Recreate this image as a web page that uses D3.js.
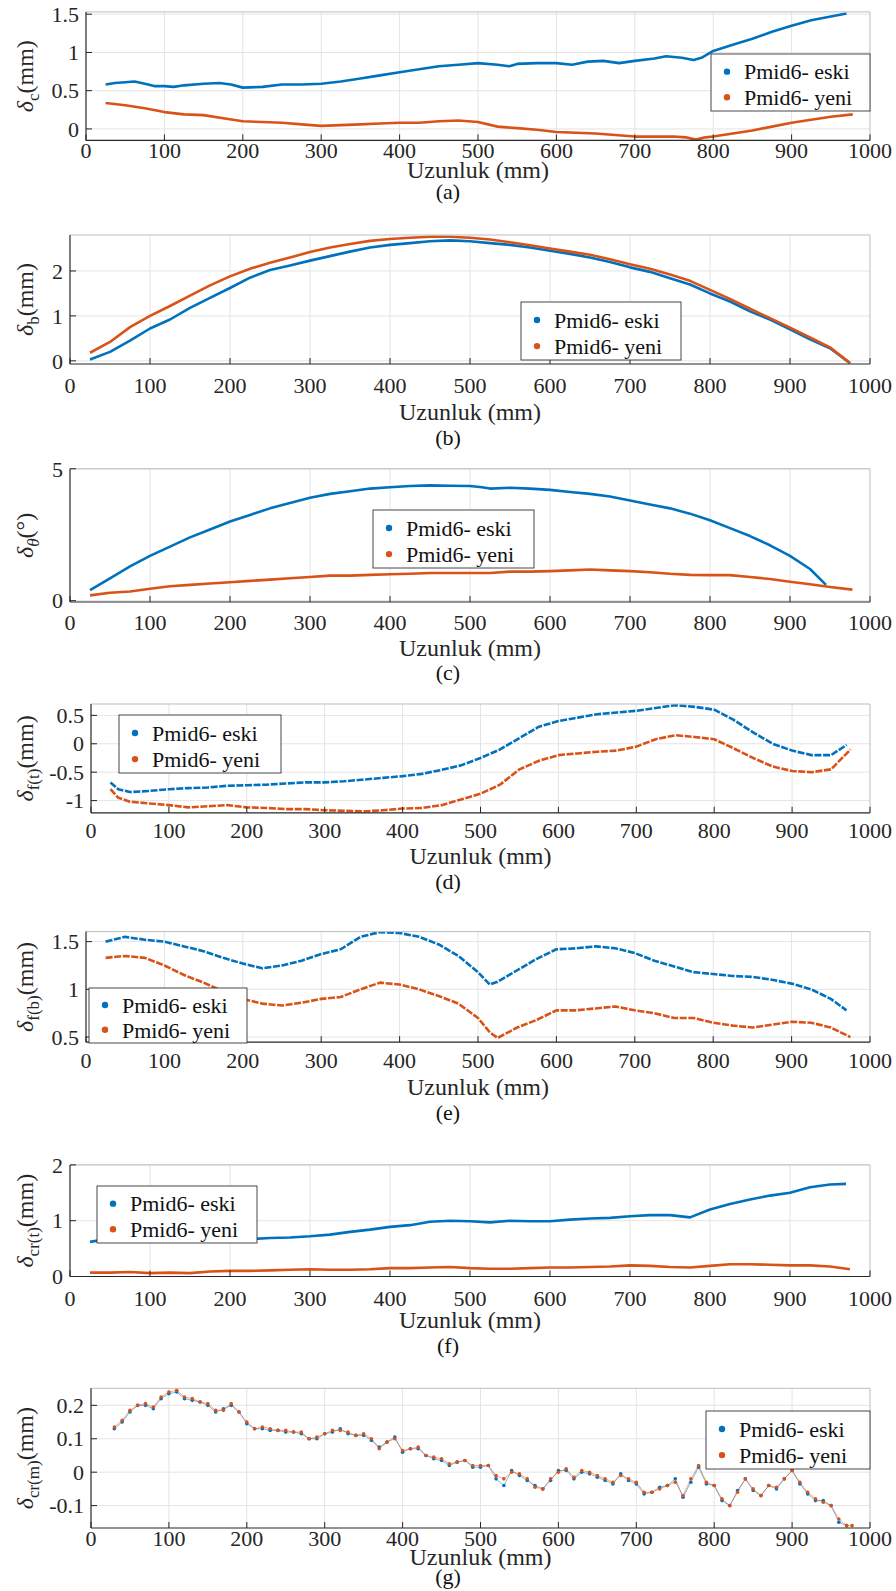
<!DOCTYPE html>
<html>
<head>
<meta charset="utf-8">
<script src="https://cdn.jsdelivr.net/npm/d3@7"></script>
<style>
  body { margin: 0; background: #fff; }
  svg, svg text { font-family: "Liberation Serif", "DejaVu Serif", "Times New Roman", Times, serif; }
  .grid line { stroke: #e4e4e4; stroke-width: 1; }
  .tick-text { font-size: 22px; fill: #262626; }
  .axis-title { font-size: 24px; fill: #262626; }
  .caption { font-size: 22px; fill: #111; }
  .legend-text { font-size: 22px; fill: #111; }
</style>
</head>
<body>
<svg id="fig" width="896" height="1591"></svg>
<script>
// values, [Uzunluk (mm), value]
const X_TICKS = [0, 100, 200, 300, 400, 500, 600, 700, 800, 900, 1000];
const SERIES_NAMES = ["Pmid6- eski", "Pmid6- yeni"];

const A_TICKS = [0, 0.5, 1, 1.5];
const A_ESKI = [[25,0.58],[37,0.6],[50,0.61],[62,0.62],[75,0.59],[87,0.56],[100,0.56],[112,0.55],[125,0.57],[150,0.59],[170,0.6],[185,0.58],[200,0.54],[225,0.55],[250,0.58],[275,0.58],[300,0.59],[325,0.62],[350,0.66],[375,0.7],[400,0.74],[425,0.78],[450,0.82],[475,0.84],[500,0.86],[525,0.84],[540,0.82],[550,0.85],[575,0.86],[600,0.86],[620,0.84],[640,0.88],[660,0.89],[680,0.86],[700,0.89],[725,0.92],[740,0.95],[760,0.93],[775,0.9],[785,0.93],[800,1.02],[825,1.1],[850,1.18],[875,1.27],[900,1.35],[925,1.42],[950,1.47],[970,1.51]];
const A_YENI = [[25,0.34],[50,0.31],[75,0.27],[100,0.22],[125,0.19],[150,0.18],[175,0.14],[200,0.1],[225,0.09],[250,0.08],[275,0.06],[300,0.04],[325,0.05],[350,0.06],[375,0.07],[400,0.08],[425,0.08],[450,0.1],[475,0.11],[500,0.09],[525,0.03],[550,0.01],[575,-0.01],[600,-0.04],[625,-0.05],[650,-0.06],[675,-0.08],[700,-0.1],[725,-0.1],[750,-0.1],[765,-0.11],[778,-0.14],[790,-0.11],[800,-0.1],[825,-0.06],[850,-0.02],[875,0.03],[900,0.08],[925,0.12],[950,0.16],[978,0.19]];

const B_TICKS = [0, 1, 2];
const B_ESKI = [[25,0.03],[50,0.2],[75,0.45],[100,0.72],[125,0.92],[150,1.18],[175,1.4],[200,1.62],[225,1.85],[250,2.02],[275,2.12],[300,2.23],[325,2.33],[350,2.43],[375,2.52],[400,2.58],[425,2.62],[450,2.66],[475,2.68],[500,2.66],[525,2.62],[550,2.58],[575,2.52],[600,2.45],[625,2.38],[650,2.3],[675,2.2],[700,2.08],[725,1.98],[750,1.84],[775,1.7],[800,1.5],[825,1.32],[850,1.1],[875,0.92],[900,0.7],[925,0.48],[950,0.28],[975,-0.05]];
const B_YENI = [[25,0.18],[50,0.42],[75,0.75],[100,1.0],[125,1.22],[150,1.45],[175,1.68],[200,1.88],[225,2.05],[250,2.18],[275,2.3],[300,2.42],[325,2.52],[350,2.6],[375,2.67],[400,2.71],[425,2.74],[450,2.76],[475,2.76],[500,2.74],[525,2.7],[550,2.64],[575,2.57],[600,2.5],[625,2.43],[650,2.36],[675,2.26],[700,2.15],[725,2.05],[750,1.92],[775,1.78],[800,1.58],[825,1.38],[850,1.16],[875,0.95],[900,0.74],[925,0.52],[950,0.3],[975,-0.05]];

const C_TICKS = [0, 5];
const C_ESKI = [[25,0.4],[50,0.85],[75,1.3],[100,1.7],[125,2.05],[150,2.4],[175,2.7],[200,3.0],[225,3.25],[250,3.5],[275,3.7],[300,3.9],[325,4.05],[350,4.15],[375,4.25],[400,4.3],[425,4.35],[450,4.37],[475,4.36],[500,4.35],[515,4.3],[525,4.25],[550,4.28],[575,4.25],[600,4.2],[625,4.12],[650,4.05],[675,3.95],[700,3.8],[725,3.65],[750,3.5],[775,3.3],[800,3.05],[825,2.75],[850,2.45],[875,2.1],[900,1.7],[925,1.2],[945,0.6]];
const C_YENI = [[25,0.2],[50,0.3],[75,0.35],[100,0.45],[125,0.55],[150,0.6],[175,0.65],[200,0.7],[225,0.75],[250,0.8],[275,0.85],[300,0.9],[325,0.95],[350,0.95],[375,0.98],[400,1.0],[425,1.02],[450,1.05],[475,1.05],[500,1.05],[525,1.05],[550,1.1],[575,1.1],[600,1.12],[625,1.15],[650,1.18],[675,1.15],[700,1.12],[725,1.08],[750,1.02],[775,0.98],[800,0.97],[825,0.97],[850,0.9],[875,0.82],[900,0.72],[925,0.62],[950,0.52],[978,0.42]];

const D_TICKS = [-1, -0.5, 0, 0.5];
const D_ESKI = [[25,-0.68],[35,-0.8],[50,-0.85],[75,-0.83],[100,-0.8],[125,-0.78],[150,-0.77],[175,-0.74],[200,-0.73],[225,-0.72],[250,-0.7],[275,-0.68],[300,-0.68],[325,-0.66],[350,-0.63],[375,-0.6],[400,-0.57],[425,-0.53],[450,-0.46],[475,-0.38],[500,-0.25],[525,-0.1],[550,0.1],[575,0.3],[600,0.4],[625,0.46],[650,0.52],[675,0.55],[700,0.58],[725,0.63],[750,0.68],[775,0.65],[800,0.6],[825,0.42],[850,0.2],[875,0.0],[900,-0.12],[925,-0.2],[950,-0.2],[970,-0.02]];
const D_YENI = [[25,-0.8],[35,-0.95],[50,-1.02],[75,-1.05],[100,-1.08],[125,-1.12],[150,-1.1],[175,-1.08],[200,-1.12],[225,-1.13],[250,-1.15],[275,-1.15],[300,-1.17],[325,-1.18],[350,-1.19],[375,-1.17],[400,-1.14],[425,-1.13],[450,-1.08],[475,-0.98],[500,-0.88],[525,-0.72],[550,-0.45],[575,-0.3],[600,-0.2],[625,-0.17],[650,-0.14],[675,-0.12],[700,-0.05],[725,0.08],[750,0.15],[775,0.12],[800,0.08],[825,-0.08],[850,-0.25],[875,-0.4],[900,-0.48],[925,-0.5],[950,-0.45],[975,-0.1]];

const E_TICKS = [0.5, 1, 1.5];
const E_ESKI = [[25,1.5],[50,1.55],[75,1.52],[100,1.5],[125,1.45],[150,1.4],[175,1.33],[200,1.27],[225,1.22],[250,1.25],[275,1.3],[300,1.37],[325,1.42],[350,1.55],[375,1.6],[400,1.59],[425,1.55],[450,1.47],[475,1.35],[500,1.18],[515,1.05],[525,1.08],[550,1.2],[575,1.32],[600,1.42],[625,1.43],[650,1.45],[675,1.43],[700,1.38],[725,1.3],[750,1.24],[775,1.18],[800,1.16],[825,1.14],[850,1.13],[875,1.1],[900,1.06],[925,1.0],[950,0.9],[970,0.78]];
const E_YENI = [[25,1.33],[50,1.35],[75,1.33],[100,1.25],[125,1.15],[150,1.07],[175,0.98],[200,0.9],[225,0.85],[250,0.83],[275,0.86],[300,0.9],[325,0.92],[350,1.0],[375,1.07],[400,1.05],[425,1.0],[450,0.93],[475,0.85],[500,0.7],[515,0.55],[525,0.49],[550,0.6],[575,0.68],[600,0.78],[625,0.78],[650,0.8],[675,0.82],[700,0.78],[725,0.75],[750,0.7],[775,0.7],[800,0.65],[825,0.62],[850,0.6],[875,0.63],[900,0.66],[925,0.65],[950,0.6],[975,0.5]];

const F_TICKS = [0, 1, 2];
const F_ESKI = [[25,0.62],[50,0.68],[65,0.73],[75,0.67],[100,0.66],[125,0.66],[150,0.68],[175,0.68],[200,0.66],[225,0.67],[250,0.69],[275,0.7],[300,0.72],[325,0.75],[350,0.8],[375,0.84],[400,0.89],[425,0.92],[450,0.98],[475,1.0],[500,0.99],[525,0.97],[550,1.0],[575,0.99],[600,0.99],[625,1.02],[650,1.04],[675,1.05],[700,1.08],[725,1.1],[750,1.1],[775,1.06],[800,1.2],[825,1.3],[850,1.38],[875,1.45],[900,1.5],[925,1.6],[950,1.65],[970,1.66]];
const F_YENI = [[25,0.07],[50,0.07],[75,0.08],[100,0.06],[125,0.07],[150,0.06],[175,0.09],[200,0.1],[225,0.1],[250,0.11],[275,0.12],[300,0.13],[325,0.12],[350,0.12],[375,0.13],[400,0.15],[425,0.15],[450,0.16],[475,0.17],[500,0.15],[525,0.14],[550,0.14],[575,0.15],[600,0.16],[625,0.16],[650,0.17],[675,0.18],[700,0.2],[725,0.19],[750,0.17],[775,0.16],[800,0.19],[825,0.22],[850,0.22],[875,0.21],[900,0.2],[925,0.2],[950,0.18],[975,0.13]];

const G_TICKS = [-0.1, 0, 0.1, 0.2];
const G_ESKI = [[30,0.13],[40,0.15],[50,0.18],[60,0.2],[70,0.2],[80,0.19],[90,0.22],[100,0.235],[110,0.24],[120,0.22],[130,0.215],[140,0.21],[150,0.2],[160,0.18],[170,0.19],[180,0.2],[190,0.18],[200,0.145],[210,0.13],[220,0.13],[230,0.125],[240,0.125],[250,0.12],[260,0.12],[270,0.115],[280,0.1],[290,0.1],[300,0.115],[310,0.12],[320,0.13],[330,0.115],[340,0.11],[350,0.11],[360,0.095],[370,0.075],[380,0.09],[390,0.105],[400,0.06],[410,0.07],[420,0.07],[430,0.05],[440,0.04],[450,0.035],[460,0.02],[470,0.03],[480,0.035],[490,0.015],[500,0.015],[510,0.02],[520,-0.02],[530,-0.04],[540,0.005],[550,-0.01],[560,-0.025],[570,-0.04],[580,-0.05],[590,-0.025],[600,0.005],[610,0.005],[620,-0.02],[630,0.0],[640,-0.005],[650,-0.015],[660,-0.025],[670,-0.035],[680,-0.005],[690,-0.025],[700,-0.035],[710,-0.065],[720,-0.06],[730,-0.045],[740,-0.04],[750,-0.02],[760,-0.075],[770,-0.03],[780,0.015],[790,-0.035],[800,-0.04],[810,-0.085],[820,-0.1],[830,-0.055],[840,-0.02],[850,-0.055],[860,-0.07],[870,-0.04],[880,-0.05],[890,-0.02],[900,0.005],[910,-0.035],[920,-0.065],[930,-0.085],[940,-0.085],[950,-0.1],[960,-0.15],[970,-0.16]];
const G_YENI = [[30,0.135],[40,0.155],[50,0.185],[60,0.2],[70,0.205],[80,0.195],[90,0.225],[100,0.24],[110,0.245],[120,0.225],[130,0.22],[140,0.21],[150,0.205],[160,0.185],[170,0.185],[180,0.205],[190,0.18],[200,0.15],[210,0.13],[220,0.135],[230,0.13],[240,0.125],[250,0.125],[260,0.12],[270,0.12],[280,0.1],[290,0.105],[300,0.115],[310,0.125],[320,0.125],[330,0.12],[340,0.11],[350,0.115],[360,0.1],[370,0.07],[380,0.09],[390,0.1],[400,0.065],[410,0.07],[420,0.075],[430,0.05],[440,0.045],[450,0.04],[460,0.025],[470,0.03],[480,0.035],[490,0.02],[500,0.02],[510,0.02],[520,-0.01],[530,-0.02],[540,0.0],[550,-0.005],[560,-0.02],[570,-0.045],[580,-0.05],[590,-0.02],[600,0.0],[610,0.01],[620,-0.015],[630,0.005],[640,0.0],[650,-0.01],[660,-0.02],[670,-0.03],[680,-0.01],[690,-0.02],[700,-0.03],[710,-0.06],[720,-0.06],[730,-0.05],[740,-0.04],[750,-0.03],[760,-0.07],[770,-0.02],[780,0.02],[790,-0.03],[800,-0.04],[810,-0.08],[820,-0.1],[830,-0.06],[840,-0.02],[850,-0.05],[860,-0.07],[870,-0.04],[880,-0.045],[890,-0.02],[900,0.005],[910,-0.03],[920,-0.06],[930,-0.08],[940,-0.09],[950,-0.1],[960,-0.14],[970,-0.16],[977,-0.16]];

const COLORS = ["#0072BD", "#D95319"];

// layout of the seven stacked axes (pixels)
const PANELS = [
  { cap: "(a)", series: [A_ESKI, A_YENI], ticks: A_TICKS, domain: [-0.15, 1.53], left: 86, top: 11.9, bottom: 140.4,
    ylab: ["c", false, "(mm)"], xtY: 150, xlabY: 170, capY: 192, legend: { x: 711, y: 54, w: 159, h: 57 }, mark: "line" },
  { cap: "(b)", series: [B_ESKI, B_YENI], ticks: B_TICKS, domain: [-0.07, 2.8], left: 70, top: 235, bottom: 364,
    ylab: ["b", false, "(mm)"], xtY: 385, xlabY: 412, capY: 438, legend: { x: 521, y: 302, w: 160, h: 58 }, mark: "line" },
  { cap: "(c)", series: [C_ESKI, C_YENI], ticks: C_TICKS, domain: [-0.05, 5], left: 70, top: 468.8, bottom: 602,
    ylab: ["θ", true, "(°)"], xtY: 622, xlabY: 648, capY: 673, legend: { x: 373, y: 510, w: 161, h: 58 }, mark: "line" },
  { cap: "(d)", series: [D_ESKI, D_YENI], ticks: D_TICKS, domain: [-1.215, 0.7], left: 91, top: 704, bottom: 812.8,
    ylab: ["f(t)", false, "(mm)"], xtY: 830, xlabY: 856, capY: 882, legend: { x: 119, y: 715, w: 162, h: 58 }, mark: "dash" },
  { cap: "(e)", series: [E_ESKI, E_YENI], ticks: E_TICKS, domain: [0.446, 1.605], left: 86, top: 931.6, bottom: 1042.2,
    ylab: ["f(b)", false, "(mm)"], xtY: 1060, xlabY: 1087, capY: 1113, legend: { x: 89, y: 988, w: 158, h: 55 }, mark: "dash" },
  { cap: "(f)", series: [F_ESKI, F_YENI], ticks: F_TICKS, domain: [0, 2], left: 70, top: 1164.9, bottom: 1276.5,
    ylab: ["cr(t)", false, "(mm)"], xtY: 1298, xlabY: 1320, capY: 1346, legend: { x: 97, y: 1186, w: 160, h: 57 }, mark: "line" },
  { cap: "(g)", series: [G_ESKI, G_YENI], ticks: G_TICKS, domain: [-0.167, 0.251], left: 91, top: 1388.3, bottom: 1528,
    ylab: ["cr(m)", false, "(mm)"], xtY: 1538, xlabY: 1557, capY: 1577, legend: { x: 706, y: 1411, w: 164, h: 58 }, mark: "dots" }
];
const RIGHT = 870;
const FONT = "'Liberation Serif', 'DejaVu Serif', 'Times New Roman', serif";

const svg = d3.select("#fig").attr("font-family", FONT);

PANELS.forEach((p, i) => {
  const x = d3.scaleLinear().domain([0, 1000]).range([p.left, RIGHT]);
  const y = d3.scaleLinear().domain(p.domain).range([p.bottom, p.top]);
  const g = svg.append("g");
  const clipId = "clip" + i;

  svg.append("clipPath").attr("id", clipId)
    .append("rect").attr("x", p.left).attr("y", p.top)
    .attr("width", RIGHT - p.left).attr("height", p.bottom - p.top);

  // grid
  const grid = g.append("g").attr("class", "grid");
  grid.selectAll(".gx").data(X_TICKS.slice(1, -1)).join("line")
    .attr("x1", d => x(d)).attr("x2", d => x(d))
    .attr("y1", p.top).attr("y2", p.bottom);
  grid.selectAll(".gy").data(p.ticks).join("line")
    .attr("x1", p.left).attr("x2", RIGHT)
    .attr("y1", d => y(d)).attr("y2", d => y(d));

  // data
  const plot = g.append("g").attr("clip-path", `url(#${clipId})`);
  const line = d3.line().x(d => x(d[0])).y(d => y(d[1]));
  p.series.forEach((s, k) => {
    if (p.mark === "dots") {
      plot.append("path").attr("d", line(s))
        .attr("fill", "none").attr("stroke", COLORS[k]).attr("stroke-width", 0.9).attr("opacity", 0.55);
      plot.selectAll(null).data(s).join("circle")
        .attr("cx", d => x(d[0])).attr("cy", d => y(d[1])).attr("r", 1.8)
        .attr("fill", COLORS[k]);
    } else {
      plot.append("path").attr("d", line(s))
        .attr("fill", "none").attr("stroke", COLORS[k])
        .attr("stroke-width", 2.6).attr("stroke-linejoin", "round")
        .attr("stroke-dasharray", p.mark === "dash" ? "7 1.6" : null);
    }
  });

  // box
  g.append("line").attr("x1", p.left).attr("x2", RIGHT).attr("y1", p.top).attr("y2", p.top).attr("stroke", "#bdbdbd");
  g.append("line").attr("x1", RIGHT).attr("x2", RIGHT).attr("y1", p.top).attr("y2", p.bottom).attr("stroke", "#bdbdbd");
  g.append("line").attr("x1", p.left).attr("x2", RIGHT).attr("y1", p.bottom).attr("y2", p.bottom).attr("stroke", "#262626").attr("stroke-width", 1.2);
  g.append("line").attr("x1", p.left).attr("x2", p.left).attr("y1", p.top).attr("y2", p.bottom).attr("stroke", "#262626").attr("stroke-width", 1.2);

  // ticks
  g.selectAll(".xt").data(X_TICKS).join("line")
    .attr("x1", d => x(d)).attr("x2", d => x(d)).attr("y1", p.bottom).attr("y2", p.bottom - 6)
    .attr("stroke", "#262626");
  g.selectAll(".yt").data(p.ticks).join("line")
    .attr("x1", p.left).attr("x2", p.left + 6).attr("y1", d => y(d)).attr("y2", d => y(d))
    .attr("stroke", "#262626");

  g.selectAll(".xl").data(X_TICKS).join("text")
    .attr("class", "tick-text").attr("x", d => x(d)).attr("y", p.xtY).attr("dy", "0.35em")
    .attr("text-anchor", "middle").text(d => d);
  g.selectAll(".yl").data(p.ticks).join("text")
    .attr("class", "tick-text").attr("x", p.left - 7).attr("y", d => y(d)).attr("dy", "0.35em")
    .attr("text-anchor", "end").text(d => String(d));

  // axis titles
  g.append("text").attr("class", "axis-title")
    .attr("x", (p.left + RIGHT) / 2).attr("y", p.xlabY).attr("dy", "0.35em")
    .attr("text-anchor", "middle").text("Uzunluk (mm)");

  const yl = g.append("text").attr("class", "axis-title")
    .attr("text-anchor", "middle")
    .attr("transform", `translate(33,${(p.top + p.bottom) / 2}) rotate(-90)`);
  yl.append("tspan").attr("font-style", "italic").text("δ");
  yl.append("tspan").attr("font-size", "17px").attr("dy", 6)
    .attr("font-style", p.ylab[1] ? "italic" : "normal").text(p.ylab[0]);
  yl.append("tspan").attr("dy", -6).text(p.ylab[2]);

  g.append("text").attr("class", "caption")
    .attr("x", 448).attr("y", p.capY).attr("dy", "0.33em")
    .attr("text-anchor", "middle").text(p.cap);

  // legend
  const L = p.legend;
  const lg = g.append("g").attr("transform", `translate(${L.x},${L.y})`);
  lg.append("rect").attr("width", L.w).attr("height", L.h)
    .attr("fill", "#fff").attr("stroke", "#333").attr("stroke-width", 0.9);
  SERIES_NAMES.forEach((name, k) => {
    const cy = L.h * (k === 0 ? 0.31 : 0.76);
    lg.append("circle").attr("cx", 16).attr("cy", cy).attr("r", 3.2).attr("fill", COLORS[k]);
    lg.append("text").attr("class", "legend-text").attr("x", 33).attr("y", cy).attr("dy", "0.35em").text(name);
  });
});
</script>
</body>
</html>
